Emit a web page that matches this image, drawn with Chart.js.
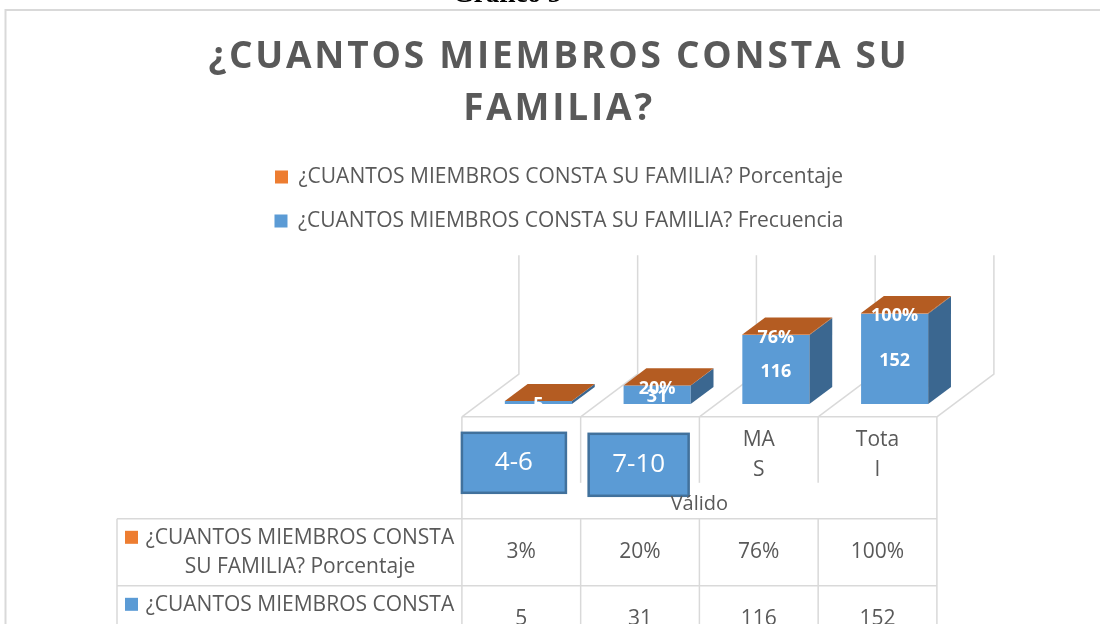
<!DOCTYPE html>
<html>
<head>
<meta charset="utf-8">
<script src="https://cdn.jsdelivr.net/npm/chart.js@4.4.1/dist/chart.umd.min.js"></script>
<style>
  html, body { margin: 0; padding: 0; background: #fff; }
  #wrap { width: 1100px; height: 624px; }
</style>
</head>
<body>
<div id="wrap"><canvas id="chart" width="1100" height="624"></canvas></div>
<script>
// Data
const categories = ['4-6', '7-10', ['MA', 'S'], ['Tota', 'l']];
const groupLabel = 'Válido';
const frecuencia = [5, 31, 116, 152];
const porcentaje = [0.03, 0.20, 0.76, 1.00];
const seriesNames = [
  '¿CUANTOS MIEMBROS CONSTA SU FAMILIA? Frecuencia',
  '¿CUANTOS MIEMBROS CONSTA SU FAMILIA? Porcentaje'
];
const titleLines = ['¿CUANTOS MIEMBROS CONSTA SU', 'FAMILIA?'];
const yMax = 200;

const FONT = "'Open Sans', sans-serif";
const TEXT = '#595959';
const GRID = '#D9D9D9';
const COLORS = ['#5B9BD5', '#ED7D31'];
const SIDE = ['#3B6790', '#A3521D'];
const TOP = ['#4A7FB0', '#B45C22'];

// fake 3D: floor depth vector, bars sit between 30% and 70% of it
const DEPTH = { x: 57, y: -42.7 };
const BAR_FRONT = 0.3;
const BAR_BACK = 0.7;

function geometry(chart) {
  const xs = chart.scales.x;
  const ys = chart.scales.y;
  const n = categories.length;
  const step = xs.getPixelForValue(1) - xs.getPixelForValue(0);
  const edges = [];
  for (let i = 0; i <= n; i++) edges.push(xs.getPixelForValue(0) - step / 2 + i * step);
  const y0 = ys.getPixelForValue(0);
  return {
    n, step, edges, y0,
    yTop: ys.getPixelForValue(yMax),
    fx: -BAR_FRONT * DEPTH.x, fy: -BAR_FRONT * DEPTH.y,
    bx: (1 - BAR_FRONT) * DEPTH.x, by: (1 - BAR_FRONT) * DEPTH.y,
    front: y0 - BAR_FRONT * DEPTH.y
  };
}

function poly(ctx, pts, color) {
  ctx.beginPath();
  pts.forEach(([x, y], i) => (i ? ctx.lineTo(x, y) : ctx.moveTo(x, y)));
  ctx.closePath();
  ctx.fillStyle = color;
  ctx.fill();
}

function line(ctx, x1, y1, x2, y2) {
  ctx.beginPath();
  ctx.moveTo(x1, y1);
  ctx.lineTo(x2, y2);
  ctx.stroke();
}

function wrap(ctx, text, maxW) {
  const lines = [];
  let cur = '';
  text.split(' ').forEach((w) => {
    const t = cur ? cur + ' ' + w : w;
    if (cur && ctx.measureText(t).width > maxW) { lines.push(cur); cur = w; } else cur = t;
  });
  if (cur) lines.push(cur);
  return lines;
}

const pctText = (v) => Math.round(v * 100) + '%';

const box3d = {
  id: 'box3d',
  afterLayout(chart) {
    // title letter spacing
    const tb = chart.titleBlock;
    if (tb && !tb._spaced) {
      const orig = tb.draw;
      tb.draw = function () {
        const c = this.ctx;
        c.save();
        c.letterSpacing = '2.8px';
        orig.apply(this, arguments);
        c.restore();
      };
      tb._spaced = true;
    }
  },
  beforeDraw(chart) {
    const ctx = chart.ctx;
    ctx.save();
    ctx.fillStyle = '#fff';
    ctx.fillRect(0, 0, chart.width, chart.height);
    ctx.strokeStyle = GRID;
    ctx.lineWidth = 2;
    ctx.strokeRect(5.5, 10, 1300, 1000);
    ctx.fillStyle = '#000';
    ctx.font = "bold 27px 'Liberation Serif', serif";
    ctx.textAlign = 'center';
    ctx.textBaseline = 'alphabetic';
    ctx.fillText('Gráfico 5', 507, 2);
    ctx.restore();
  },
  beforeDatasetsDraw(chart) {
    const ctx = chart.ctx;
    const g = geometry(chart);
    ctx.save();
    ctx.strokeStyle = GRID;
    ctx.lineWidth = 1.5;
    g.edges.forEach((x) => {
      ctx.beginPath();
      ctx.moveTo(x + g.bx, g.yTop + g.by);
      ctx.lineTo(x + g.bx, g.y0 + g.by);
      ctx.lineTo(x + g.fx, g.front);
      ctx.stroke();
    });
    ctx.restore();
  },
  afterDatasetsDraw(chart) {
    const ctx = chart.ctx;
    const g = geometry(chart);
    const dx = (BAR_BACK - BAR_FRONT) * DEPTH.x;
    const dy = (BAR_BACK - BAR_FRONT) * DEPTH.y;
    const metas = chart.data.datasets.map((_, i) => chart.getDatasetMeta(i));
    const topIdx = metas.length - 1;
    ctx.save();
    for (let i = 0; i < g.n; i++) {
      metas.forEach((m, d) => {
        const p = m.data[i].getProps(['x', 'y', 'base', 'width'], true);
        const r = p.x + p.width / 2;
        const t = Math.min(p.y, p.base);
        const b = Math.max(p.y, p.base);
        poly(ctx, [[r, t], [r + dx, t + dy], [r + dx, b + dy], [r, b]], SIDE[d]);
      });
      const p = metas[topIdx].data[i].getProps(['x', 'y', 'base', 'width'], true);
      const l = p.x - p.width / 2;
      const r = p.x + p.width / 2;
      poly(ctx, [[l, p.y], [l + dx, p.y + dy], [r + dx, p.y + dy], [r, p.y]], TOP[topIdx]);
    }
    // data labels
    ctx.fillStyle = '#fff';
    ctx.font = 'bold 18px ' + FONT;
    ctx.textAlign = 'center';
    ctx.textBaseline = 'middle';
    for (let i = 0; i < g.n; i++) {
      const f = metas[0].data[i].getProps(['x', 'y', 'base'], true);
      ctx.fillText(String(frecuencia[i]), f.x, (f.y + f.base) / 2 + 2);
      if (f.base - f.y >= 5) {
        const q = metas[1].data[i].getProps(['x', 'y', 'base'], true);
        ctx.fillText(pctText(porcentaje[i]), q.x, q.y + 3);
      }
    }
    ctx.restore();
  },
  afterDraw(chart) {
    const ctx = chart.ctx;
    const g = geometry(chart);
    const H = chart.height;
    const left = g.edges[0] + g.fx;
    const right = g.edges[g.n] + g.fx;
    const top = g.front;
    const headBot = top + 66;
    const groupBot = top + 102;
    const rowH = 67;
    const labelLeft = 117;

    ctx.save();
    ctx.strokeStyle = GRID;
    ctx.lineWidth = 1.5;
    line(ctx, left, top, right, top);
    line(ctx, left, top, left, H);
    line(ctx, right, top, right, H);
    for (let i = 1; i < g.n; i++) {
      const x = g.edges[i] + g.fx;
      line(ctx, x, top, x, headBot);
      line(ctx, x, groupBot, x, H);
    }
    for (let r = 0; r <= 2; r++) line(ctx, labelLeft, groupBot + r * rowH, right, groupBot + r * rowH);
    line(ctx, labelLeft, groupBot, labelLeft, H);

    // category labels (first two sit inside pasted blue boxes)
    const labelBoxes = [{ dx: 0, dy: 16, w: 104, h: 60 }, { dx: 8, dy: 17, w: 100, h: 62 }];
    ctx.textAlign = 'center';
    ctx.textBaseline = 'middle';
    categories.forEach((c, i) => {
      const x0 = g.edges[i] + g.fx;
      const cx = x0 + g.step / 2;
      const lines = Array.isArray(c) ? c : [c];
      const bx = labelBoxes[i];
      if (bx) {
        ctx.fillStyle = COLORS[0];
        ctx.fillRect(x0 + bx.dx, top + bx.dy, bx.w, bx.h);
        ctx.strokeStyle = '#41719C';
        ctx.lineWidth = 2.5;
        ctx.strokeRect(x0 + bx.dx, top + bx.dy, bx.w, bx.h);
        ctx.fillStyle = '#fff';
        ctx.font = '26px ' + FONT;
        ctx.fillText(lines.join(''), x0 + bx.dx + bx.w / 2, top + bx.dy + bx.h / 2);
      } else {
        ctx.fillStyle = TEXT;
        ctx.font = '21px ' + FONT;
        lines.forEach((t, k) => ctx.fillText(t, cx, top + 23 + k * 30));
      }
    });
    ctx.fillStyle = TEXT;
    ctx.font = '20px ' + FONT;
    ctx.fillText(groupLabel, (left + right) / 2, top + 87.5);

    // table rows, same order as legend (Porcentaje first)
    const rows = [1, 0];
    rows.forEach((d, r) => {
      const rowTop = groupBot + r * rowH;
      const cy = rowTop + rowH / 2;
      ctx.fillStyle = COLORS[d];
      ctx.fillRect(labelLeft + 8, rowTop + 12, 13, 13);
      ctx.fillStyle = TEXT;
      ctx.font = '21px ' + FONT;
      const textL = labelLeft + 28;
      const textR = left - 7;
      const lines = wrap(ctx, seriesNames[d], textR - textL + 10);
      lines.forEach((t, k) => ctx.fillText(t, (textL + textR) / 2, cy + (k - (lines.length - 1) / 2) * 28.6));
      const vals = d === 0 ? frecuencia.map(String) : porcentaje.map(pctText);
      vals.forEach((v, i) => ctx.fillText(v, g.edges[i] + g.fx + g.step / 2, cy));
    });
    ctx.restore();
  }
};

const hidden = { grid: { display: false }, border: { display: false }, ticks: { display: false } };

new Chart(document.getElementById('chart'), {
  type: 'bar',
  data: {
    labels: categories,
    datasets: [
      { label: seriesNames[0], data: frecuencia, backgroundColor: COLORS[0], borderWidth: 0 },
      { label: seriesNames[1], data: porcentaje, backgroundColor: COLORS[1], borderWidth: 0 }
    ]
  },
  options: {
    responsive: false,
    animation: false,
    devicePixelRatio: 1,
    layout: { padding: { left: 18, right: 0, top: 0, bottom: 0 } },
    datasets: { bar: { barPercentage: 0.565, categoryPercentage: 1 } },
    scales: {
      x: { stacked: true, ...hidden, afterFit: (s) => { s.height = 220; } },
      xTop: { type: 'category', position: 'top', ...hidden, afterFit: (s) => { s.height = 43.5; } },
      y: { stacked: true, min: 0, max: yMax, ...hidden, afterFit: (s) => { s.width = 461; } },
      y2: { type: 'linear', position: 'right', ...hidden, afterFit: (s) => { s.width = 146; } }
    },
    plugins: {
      tooltip: { enabled: false },
      title: {
        display: true,
        text: titleLines,
        color: TEXT,
        font: { family: FONT, size: 37, weight: 'bold', lineHeight: 1.4 },
        padding: { top: 32, bottom: 8 }
      },
      legend: {
        reverse: true,
        labels: {
          font: { family: FONT, size: 21 },
          color: TEXT,
          boxWidth: 13,
          boxHeight: 13,
          padding: 23
        }
      }
    }
  },
  plugins: [box3d]
});
</script>
</body>
</html>
